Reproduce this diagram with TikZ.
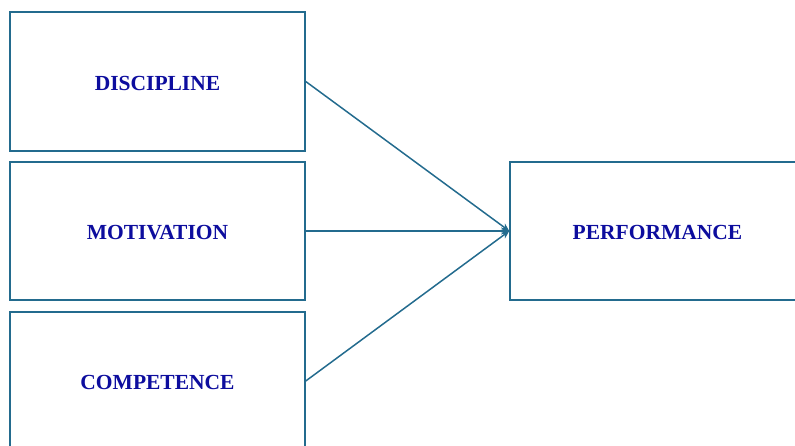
\documentclass[tikz,border=0pt]{standalone}
\usepackage{fontspec}
\setmainfont{Liberation Serif}
\usetikzlibrary{arrows.meta}
\definecolor{lc}{HTML}{236B8E}
\definecolor{tc}{HTML}{0D0D9E}
\begin{document}
\begin{tikzpicture}[x=1pt,y=-1pt,
  box/.style={draw=lc, line width=1.5pt, fill=white},
  lbl/.style={text=tc, font=\bfseries\fontsize{21.5}{24}\selectfont, yshift=-1.5pt},
  conn/.style={draw=lc, line width=1.5pt, -{Stealth[length=8pt,width=7pt]}}]
\useasboundingbox (0,0) rectangle (795,446);
\clip (0,0) rectangle (795,446);
\node[box, minimum width=295pt, minimum height=139pt, inner sep=0pt] (d) at (157.5,81.5) {};
\node[box, minimum width=295pt, minimum height=138pt, inner sep=0pt] (m) at (157.5,231) {};
\node[box, minimum width=295pt, minimum height=138pt, inner sep=0pt] (c) at (157.5,381) {};
\node[box, minimum width=295pt, minimum height=138pt, inner sep=0pt] (p) at (657.5,231) {};
\node[lbl] at (d.center) {DISCIPLINE};
\node[lbl] at (m.center) {MOTIVATION};
\node[lbl] at (c.center) {COMPETENCE};
\node[lbl] at (p.center) {PERFORMANCE};
\draw[conn] (d.east) -- (p.west);
\draw[conn] (m.east) -- (p.west);
\draw[conn] (c.east) -- (p.west);
\end{tikzpicture}
\end{document}
